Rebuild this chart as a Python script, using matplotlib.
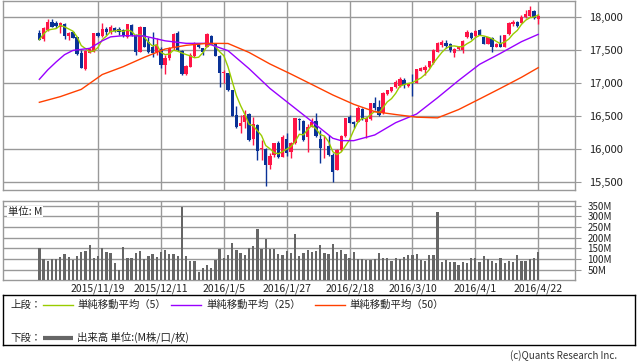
import matplotlib
matplotlib.use("Agg")
import matplotlib.pyplot as plt
import numpy as np
import pandas as pd

plt.rcParams['font.family'] = ['Noto Sans CJK JP', 'DejaVu Sans']

# ---------------- data ----------------
tick_idx = [14, 29, 44, 59, 74, 89, 104, 119]
tick_labels = ["2015/11/19", "2015/12/11", "2016/1/5", "2016/1/27",
               "2016/2/18", "2016/3/10", "2016/4/1", "2016/4/22"]

opens = [17758, 17662, 17803, 17919, 17904, 17844, 17894, 17713, 17778, 17693,
         17451, 17209, 17461, 17476, 17753, 17713, 17814, 17768, 17829, 17814,
         17803, 17703, 17879, 17728, 17476, 17844, 17627, 17551, 17476, 17511,
         17274, 17375, 17526, 17753, 17491, 17138, 17249, 17415, 17587, 17526,
         17551, 17713, 17592, 17415, 17148, 17148, 16896, 16518, 16352, 16418,
         16533, 16150, 16367, 16004, 16004, 15762, 15913, 16090, 15888, 16150,
         15964, 16090, 16458, 16428, 16181, 16342, 16428, 16150, 16014, 16050,
         15913, 15687, 15989, 16201, 16493, 16407, 16418, 16604, 16418, 16453,
         16705, 16634, 16543, 16836, 16886, 16937, 16957, 17047, 16957, 17007,
         17007, 17189, 17199, 17239, 17299, 17476, 17577, 17612, 17587, 17461,
         17511, 17501, 17693, 17753, 17718, 17803, 17703, 17592, 17677, 17551,
         17602, 17551, 17738, 17894, 17929, 17914, 18000, 18015, 18091, 17975]
highs = [17800, 17854, 17970, 17970, 17935, 17919, 17904, 17773, 17788, 17703,
         17501, 17501, 17526, 17763, 17773, 17904, 17854, 17880, 17850, 17854,
         17820, 17894, 17900, 17740, 17860, 17850, 17703, 17768, 17677, 17551,
         17425, 17551, 17763, 17793, 17501, 17274, 17451, 17627, 17600, 17536,
         17753, 17730, 17600, 17420, 17199, 17158, 16900, 16654, 16518, 16594,
         16543, 16493, 16382, 16140, 16014, 15939, 16100, 16120, 16216, 16241,
         16115, 16480, 16478, 16440, 16382, 16478, 16543, 16291, 16201, 16216,
         15939, 16000, 16210, 16480, 16518, 16433, 16654, 16620, 16493, 16700,
         16796, 16745, 16860, 16900, 16940, 17047, 17098, 17073, 17000, 17138,
         17215, 17240, 17274, 17340, 17510, 17620, 17652, 17652, 17602, 17526,
         17560, 17652, 17803, 17768, 17800, 17815, 17710, 17700, 17703, 17600,
         17728, 17735, 17920, 17955, 17945, 18030, 18106, 18171, 18106, 18045]
lows = [17650, 17642, 17793, 17844, 17829, 17763, 17662, 17652, 17677, 17425,
        17224, 17199, 17451, 17466, 17700, 17703, 17728, 17750, 17780, 17728,
        17700, 17690, 17720, 17425, 17466, 17540, 17451, 17400, 17425, 17224,
        17138, 17350, 17501, 17491, 17118, 17123, 17239, 17400, 17530, 17425,
        17541, 17600, 17410, 16947, 17007, 16886, 16500, 16317, 16241, 16317,
        16130, 16065, 15838, 15838, 15450, 15702, 15890, 15870, 15880, 15900,
        15863, 16080, 16291, 16130, 15964, 16330, 16190, 15787, 15863, 15898,
        15510, 15680, 15980, 16190, 16397, 16317, 16407, 16440, 16166, 16440,
        16594, 16503, 16530, 16820, 16870, 16921, 16947, 16921, 16940, 16806,
        17000, 17180, 17123, 17230, 17290, 17470, 17551, 17536, 17476, 17390,
        17500, 17451, 17677, 17662, 17705, 17728, 17592, 17585, 17476, 17540,
        17541, 17545, 17730, 17864, 17854, 17904, 17980, 18005, 17965, 17894]
closes = [17657, 17829, 17919, 17854, 17864, 17904, 17713, 17763, 17688, 17441,
          17234, 17491, 17511, 17753, 17718, 17814, 17768, 17854, 17793, 17778,
          17713, 17894, 17728, 17476, 17854, 17551, 17476, 17451, 17577, 17274,
          17375, 17526, 17743, 17501, 17133, 17259, 17425, 17602, 17541, 17476,
          17738, 17602, 17415, 17148, 17173, 16896, 16503, 16342, 16392, 16518,
          16140, 16382, 15979, 16014, 15762, 15898, 16090, 15888, 16181, 15949,
          16090, 16468, 16443, 16140, 16342, 16418, 16201, 16014, 16024, 15913,
          15661, 15989, 16201, 16468, 16402, 16382, 16619, 16458, 16468, 16695,
          16619, 16518, 16856, 16896, 16937, 17022, 17063, 16972, 16982, 16997,
          17209, 17224, 17249, 17335, 17501, 17612, 17627, 17562, 17501, 17511,
          17551, 17637, 17778, 17677, 17793, 17728, 17592, 17693, 17551, 17592,
          17551, 17728, 17914, 17929, 17864, 18005, 18045, 18106, 17980, 18020]
volumes = [153, 100, 92, 100, 100, 109, 123, 109, 97, 114,
           133, 139, 165, 106, 114, 150, 134, 128, 81, 47,
           156, 106, 106, 128, 137, 100, 114, 123, 109, 133,
           142, 123, 123, 114, 343, 114, 90, 90, 39, 58,
           72, 58, 95, 147, 105, 119, 175, 142, 128, 119,
           151, 161, 240, 147, 195, 147, 147, 123, 119, 137,
           128, 217, 114, 128, 142, 133, 137, 165, 129, 123,
           170, 134, 142, 123, 106, 134, 100, 100, 95, 95,
           100, 128, 105, 105, 92, 105, 100, 109, 119, 119,
           123, 95, 90, 119, 119, 320, 86, 95, 86, 86,
           72, 86, 81, 105, 105, 86, 114, 100, 90, 81,
           105, 81, 90, 86, 119, 90, 90, 100, 105, 133]

ma25_idx = [0, 2, 4, 6, 8, 10, 12, 15, 17, 20, 25, 30, 35, 40, 45, 50, 55,
            60, 65, 67, 70, 72, 75, 80, 85, 90, 95, 100, 105, 110, 115, 119]
ma25_val = [17058, 17200, 17320, 17430, 17495, 17511, 17526, 17640, 17700,
            17718, 17713, 17640, 17602, 17602, 17491, 17220, 16920, 16670,
            16420, 16317, 16166, 16130, 16130, 16216, 16402, 16533, 16780,
            17040, 17284, 17451, 17627, 17738]
ma50_idx = [0, 5, 10, 15, 20, 25, 30, 35, 40, 45, 50, 55, 60, 65, 70, 75,
            80, 85, 90, 95, 100, 105, 110, 115, 119]
ma50_val = [16710, 16796, 16906, 17130, 17249, 17390, 17516, 17572, 17602,
            17600, 17465, 17290, 17138, 16980, 16821, 16680, 16569, 16525,
            16485, 16475, 16600, 16760, 16922, 17088, 17234]

legend_ma = ["単純移動平均（5）", "単純移動平均（25）", "単純移動平均（50）"]
legend_vol = "出来高 単位:(M株/口/枚)"

# ---------------- styles ----------------
C_UP = "#ff1446"
C_DN = "#0a3296"
C_MA5 = "#99cc00"
C_MA25 = "#9900ff"
C_MA50 = "#ff4000"
C_VOL = "#666666"
C_GRID = "#999999"

W, H = 638, 362
fig = plt.figure(figsize=(W / 100, H / 100), dpi=100)


def rect(l, t, r, b):
    return [l / W, 1 - b / H, (r - l) / W, (b - t) / H]


x = np.arange(len(closes))
o = np.array(opens, float)
h = np.array(highs, float)
lo = np.array(lows, float)
c = np.array(closes, float)
up = c >= o
cols = np.where(up, C_UP, C_DN)

xl = (-8.6, 127.7)

# ---------------- upper panel ----------------
ax1 = fig.add_axes(rect(3.3, 0.5, 574.7, 190.3))
ax1.set_xlim(*xl)
ax1.set_ylim(15379, 18250)
yt = [15500, 16000, 16500, 17000, 17500, 18000]
ax1.set_yticks(yt)
ax1.set_yticklabels([f"{v:,}" for v in yt])
ax1.set_xticks(tick_idx)
ax1.set_xticklabels([])
ax1.grid(True, color=C_GRID, lw=1.0)
ax1.set_axisbelow(True)
ax1.yaxis.tick_right()
ax1.tick_params(axis='y', length=4, color=C_GRID, labelsize=8, pad=6, labelcolor="#222222")
ax1.tick_params(axis='x', length=0)
for s in ax1.spines.values():
    s.set_color(C_GRID)
    s.set_linewidth(1.0)

ax1.vlines(x, lo, h, colors=cols, lw=1.0, zorder=2)
body_b = np.minimum(o, c)
body_h = np.maximum(np.abs(c - o), 8)
ax1.bar(x, body_h, bottom=body_b, width=0.78, color=cols, lw=0, zorder=3)

ma5 = pd.Series(c).rolling(5, min_periods=1).mean().values
ax1.plot(x, ma5, color=C_MA5, lw=1.0, zorder=4)
ax1.plot(ma25_idx, ma25_val, color=C_MA25, lw=1.0, zorder=4)
ax1.plot(ma50_idx, ma50_val, color=C_MA50, lw=1.0, zorder=4)

# ---------------- volume panel ----------------
ax2 = fig.add_axes(rect(3.3, 201, 574.7, 280.3))
ax2.set_xlim(*xl)
ax2.set_ylim(0, 372)
vt = [50, 100, 150, 200, 250, 300, 350]
ax2.set_yticks(vt)
ax2.set_yticklabels([f"{v}M" for v in vt])
ax2.yaxis.tick_right()
ax2.set_xticks(tick_idx)
ax2.set_xticklabels(tick_labels)
ax2.grid(True, color=C_GRID, lw=1.0)
ax2.set_axisbelow(True)
ax2.tick_params(axis='y', length=4, color=C_GRID, labelsize=7, pad=5, labelcolor="#222222")
ax2.tick_params(axis='x', length=0, labelsize=7.5, pad=2, labelcolor="#222222")
for s in ax2.spines.values():
    s.set_color(C_GRID)
    s.set_linewidth(1.0)
ax2.bar(x, volumes, width=0.55, color=C_VOL, lw=0, zorder=3)
ax2.text(0.008, 0.93, "単位: M", transform=ax2.transAxes, fontsize=7.5,
         va='top', ha='left', color="#222222",
         bbox=dict(facecolor='white', edgecolor='none', pad=0.5), zorder=5)

# ---------------- legend box ----------------
ax3 = fig.add_axes(rect(3.3, 294.5, 635, 345))
ax3.set_xlim(3.3, 635)
ax3.set_ylim(345, 294.5)
ax3.set_xticks([])
ax3.set_yticks([])
for s in ax3.spines.values():
    s.set_color("#000000")
    s.set_linewidth(1.0)

ty1, ty2 = 304.5, 337.5
ax3.text(10, ty1, "上段：", fontsize=7.5, va='center', ha='left', color="#222222")
ax3.text(10, ty2, "下段：", fontsize=7.5, va='center', ha='left', color="#222222")
segs = [(43, 73, 77, C_MA5, legend_ma[0]),
        (171, 201, 206, C_MA25, legend_ma[1]),
        (315, 345, 349, C_MA50, legend_ma[2])]
for x0, x1, xt, col, lab in segs:
    ax3.plot([x0, x1], [ty1, ty1], color=col, lw=1.0)
    ax3.text(xt, ty1, lab, fontsize=7.5, va='center', ha='left', color="#222222")
ax3.plot([43, 73], [ty2, ty2], color=C_VOL, lw=3.0, solid_capstyle='butt')
ax3.text(77, ty2, legend_vol, fontsize=7.5, va='center', ha='left', color="#222222")

fig.text(617 / W, 1 - 356 / H, "(c)Quants Research Inc.", fontsize=7,
         ha='right', va='center', color="#333333")

fig.savefig("out.png", dpi=100, facecolor="white")
